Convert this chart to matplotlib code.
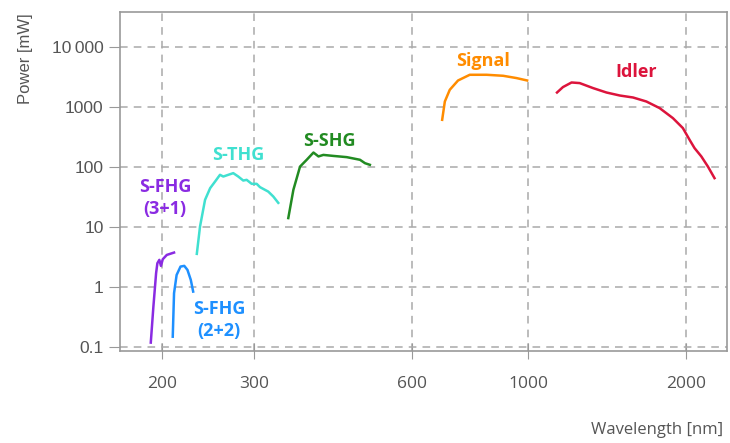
import matplotlib
matplotlib.use('Agg')
import matplotlib.pyplot as plt
from matplotlib.ticker import FixedLocator, FixedFormatter, NullLocator

# wavelength [nm] and power [mW]
fhg31_wl = [190.3, 192.5, 194.8, 195.9, 197.6, 199.0, 200.6, 204.2, 210.8]
fhg31_pw = [0.118, 0.47, 1.69, 2.48, 2.82, 2.24, 2.89, 3.41, 3.73]

fhg22_wl = [209.6, 210.8, 213.2, 216.9, 220.5, 223.6, 226.9, 229.3]
fhg22_pw = [0.148, 0.785, 1.58, 2.18, 2.24, 1.92, 1.31, 0.835]

thg_wl = [233.0, 236.3, 241.6, 247.1, 252.5, 258.0, 261.8, 267.6, 273.5, 279.6,
          285.8, 290.1, 296.6, 303.2, 307.6, 314.4, 319.0, 326.2, 333.4]
thg_pw = [3.55, 10.1, 28.2, 44.2, 56.9, 73.6, 68.9, 73.6, 78.5, 68.9,
          59.1, 60.7, 52.1, 52.1, 45.9, 41.4, 38.7, 32.0, 25.1]

shg_wl = [348.4, 356.3, 366.9, 377.8, 389.2, 397.9, 406.5, 424.7, 450.5, 477.6, 488.2, 498.8]
shg_pw = [14.0, 41.4, 101, 131, 173, 149, 158, 152, 145, 131, 115, 108]

signal_wl = [685.5, 693.6, 708.8, 735.1, 774.0, 833.4, 896.3, 950.7, 996.0]
signal_pw = [607, 1225, 1920, 2744, 3415, 3415, 3286, 3009, 2744]

idler_wl = [1136, 1166, 1211, 1255, 1331, 1412, 1497, 1587, 1683, 1784,
            1891, 1976, 2035, 2080, 2143, 2206, 2271]
idler_pw = [1730, 2130, 2541, 2483, 2050, 1730, 1542, 1429, 1225, 951,
            648, 442, 282, 205, 149, 101, 64.8]

x_ticks = [200, 300, 600, 1000, 2000]
x_labels = ['200', '300', '600', '1000', '2000']
y_ticks = [0.1, 1, 10, 100, 1000, 10000]
y_labels = ['0.1', '1', '10', '100', '1000', '10\u2009000']

series = [
    (fhg31_wl, fhg31_pw, '#8a2be2', 'S-FHG\n(3+1)', 202.6, 30.4),
    (fhg22_wl, fhg22_pw, '#1e90ff', 'S-FHG\n(2+2)', 257.0, 0.282),
    (thg_wl, thg_pw, '#40e0d0', 'S-THG', 279.3, 158),
    (shg_wl, shg_pw, '#228b22', 'S-SHG', 416.6, 272),
    (signal_wl, signal_pw, '#ff8c00', 'Signal', 819, 5843),
    (idler_wl, idler_pw, '#dc143c', 'Idler', 1606, 3831),
]

grey = '#555555'
fig = plt.figure(figsize=(7.3, 4.43), dpi=100)
ax = fig.add_axes([0.164, 0.208, 0.832, 0.765])

for wl, pw, c, name, tx, ty in series:
    ax.plot(wl, pw, color=c, lw=1.8)
    ax.text(tx, ty, name, color=c, ha='center', va='center', fontsize=13,
            fontweight='bold', family='Open Sans', linespacing=1.3)

ax.set_xscale('log')
ax.set_yscale('log')
ax.set_xlim(166, 2400)
ax.set_ylim(0.086, 38000)

ax.xaxis.set_major_locator(FixedLocator(x_ticks))
ax.xaxis.set_major_formatter(FixedFormatter(x_labels))
ax.xaxis.set_minor_locator(NullLocator())
ax.yaxis.set_major_locator(FixedLocator(y_ticks))
ax.yaxis.set_major_formatter(FixedFormatter(y_labels))
ax.yaxis.set_minor_locator(NullLocator())

ax.grid(True, color='#aaaaaa', ls=(0, (5, 4)), lw=1.1)
for s in ax.spines.values():
    s.set_color('#999999')
    s.set_linewidth(1.2)

ax.tick_params(axis='x', direction='inout', length=12, color='#999999',
               labelcolor=grey, labelsize=12.5, pad=12)
ax.tick_params(axis='y', direction='out', length=8, color='#999999',
               labelcolor=grey, labelsize=12.5)
for lab in ax.get_xticklabels():
    lab.set_family('Open Sans')
for lab in ax.get_yticklabels():
    lab.set_family('Liberation Sans')

fig.text(0.99, 0.03, 'Wavelength [nm]', ha='right', va='center', color=grey,
         fontsize=12, family='Open Sans')
fig.text(0.035, 0.97, 'Power [mW]', ha='center', va='top', rotation=90,
         color=grey, fontsize=12, family='Liberation Sans')

fig.savefig('out.png', dpi=100)
